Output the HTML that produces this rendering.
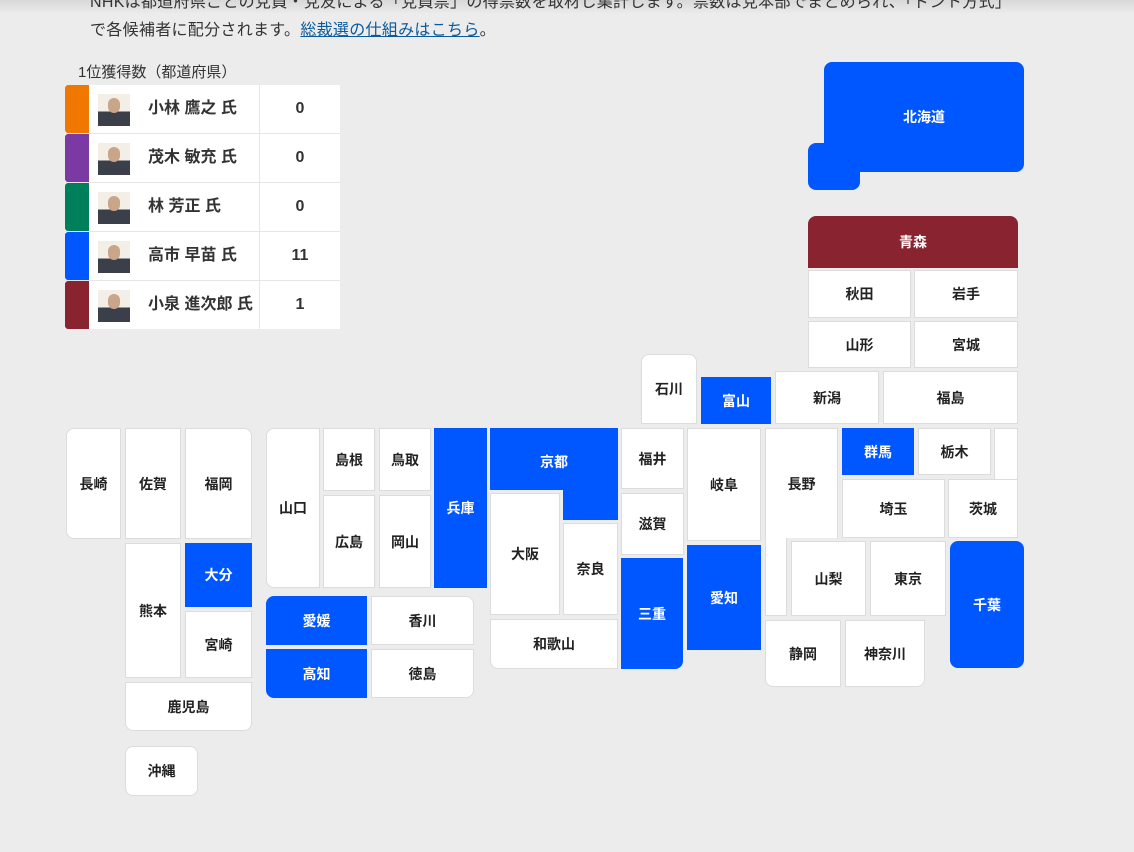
<!DOCTYPE html>
<html><head><meta charset="utf-8"><style>
body{margin:0;width:1134px;height:852px;background:#ececec;position:relative;overflow:hidden;font-family:"Liberation Sans","Noto Sans CJK JP",sans-serif;}
.t{position:absolute;left:90px;font-size:16px;letter-spacing:0.3px;color:#333;white-space:nowrap;}
.t a{color:#0a5a9c;text-decoration:underline;}
.c{position:absolute;background:#fff;border:1px solid #dcdcdc;box-sizing:border-box;display:flex;align-items:center;justify-content:center;font-size:14px;font-weight:bold;color:#222;}
.b{background:#0057ff;border-color:#0057ff;color:#fff;}
.r{background:#8a2330;border-color:#8a2330;color:#fff;}
.p{position:absolute;box-sizing:border-box;}
.row{position:absolute;left:65px;width:275px;height:48px;background:#fff;}
.row .bar{position:absolute;left:0;top:0;width:24px;height:48px;border-radius:3px 0 0 3px;}
.row .ph{position:absolute;left:33px;top:9px;width:32px;height:32px;background:linear-gradient(#f3efe6 55%,#3a3f4a 55%);}
.row .ph::after{content:"";position:absolute;left:10px;top:4px;width:12px;height:15px;border-radius:6px;background:#c9a58a;}
.row .nm{position:absolute;left:83px;top:0;height:48px;line-height:48px;font-size:16px;font-weight:bold;color:#333;white-space:nowrap;}
.row .dv{position:absolute;left:194px;top:0;width:1px;height:48px;background:#e6e6e6;}
.row .n{position:absolute;left:195px;width:80px;top:0;height:48px;line-height:48px;text-align:center;font-size:16px;font-weight:bold;color:#333;}
</style></head><body>
<div style="position:absolute;left:0;top:0;width:1134px;height:14px;background:linear-gradient(#d8d8d8,#ececec)"></div>
<div class="t" style="top:-12px">NHKは都道府県ごとの党員・党友による「党員票」の得票数を取材し集計します。票数は党本部でまとめられ、「ドント方式」</div>
<div class="t" style="top:16px">で各候補者に配分されます。<a>総裁選の仕組みはこちら</a>。</div>
<div style="position:absolute;left:78px;top:61px;font-size:15px;color:#333">1位獲得数（都道府県）</div>

<div class="row" style="top:85px"><div class="bar" style="background:#f07800"></div><div class="ph"></div><div class="nm">小林 鷹之 氏</div><div class="dv"></div><div class="n">0</div></div>
<div class="row" style="top:134px"><div class="bar" style="background:#7b3aa3"></div><div class="ph"></div><div class="nm">茂木 敏充 氏</div><div class="dv"></div><div class="n">0</div></div>
<div class="row" style="top:183px"><div class="bar" style="background:#00805a"></div><div class="ph"></div><div class="nm">林 芳正 氏</div><div class="dv"></div><div class="n">0</div></div>
<div class="row" style="top:232px"><div class="bar" style="background:#0057ff"></div><div class="ph"></div><div class="nm">高市 早苗 氏</div><div class="dv"></div><div class="n">11</div></div>
<div class="row" style="top:281px"><div class="bar" style="background:#8a2330"></div><div class="ph"></div><div class="nm">小泉 進次郎 氏</div><div class="dv"></div><div class="n">1</div></div>
<div style="position:absolute;left:65px;top:133px;width:275px;height:1px;background:#e6e6e6"></div>
<div style="position:absolute;left:65px;top:182px;width:275px;height:1px;background:#e6e6e6"></div>
<div style="position:absolute;left:65px;top:231px;width:275px;height:1px;background:#e6e6e6"></div>
<div style="position:absolute;left:65px;top:280px;width:275px;height:1px;background:#e6e6e6"></div>

<!-- Hokkaido -->
<div class="p" style="left:808px;top:143px;width:52px;height:47px;background:#0057ff;border-radius:8px"></div>
<div class="c b" style="left:824px;top:62px;width:200px;height:110px;border-radius:8px">北海道</div>
<div class="c r" style="left:808px;top:216px;width:210px;height:52px;border-radius:8px 8px 0 0">青森</div>
<div class="c" style="left:808px;top:270px;width:103px;height:48px">秋田</div>
<div class="c" style="left:914px;top:270px;width:104px;height:48px">岩手</div>
<div class="c" style="left:808px;top:321px;width:103px;height:47px">山形</div>
<div class="c" style="left:914px;top:321px;width:104px;height:47px">宮城</div>
<div class="c" style="left:641px;top:354px;width:56px;height:70px;border-radius:8px 8px 0 0">石川</div>
<div class="c b" style="left:701px;top:377px;width:70px;height:47px">富山</div>
<div class="c" style="left:775px;top:371px;width:104px;height:53px">新潟</div>
<div class="c" style="left:883px;top:371px;width:135px;height:53px">福島</div>
<div class="c" style="left:621px;top:428px;width:63px;height:61px">福井</div>
<div class="c" style="left:621px;top:493px;width:63px;height:62px">滋賀</div>
<div class="c b" style="left:621px;top:558px;width:62px;height:111px;border-radius:0 0 8px 0">三重</div>
<div class="c" style="left:687px;top:428px;width:74px;height:113px">岐阜</div>
<div class="c b" style="left:687px;top:545px;width:74px;height:105px">愛知</div>
<div class="p" style="left:765px;top:530px;width:22px;height:86px;background:#fff;border:1px solid #dcdcdc;border-top:none"></div>
<div class="c" style="left:765px;top:428px;width:73px;height:110px;border-bottom:none">長野</div>
<div class="c b" style="left:842px;top:428px;width:72px;height:47px">群馬</div>
<div class="c" style="left:918px;top:428px;width:73px;height:47px">栃木</div>
<div class="p" style="left:994px;top:428px;width:24px;height:60px;background:#fff;border:1px solid #dcdcdc;border-bottom:none"></div>
<div class="c" style="left:948px;top:479px;width:70px;height:59px">茨城</div>
<div class="c" style="left:842px;top:479px;width:103px;height:59px">埼玉</div>
<div class="c" style="left:791px;top:541px;width:75px;height:75px">山梨</div>
<div class="c" style="left:870px;top:541px;width:76px;height:75px">東京</div>
<div class="c b" style="left:950px;top:541px;width:74px;height:127px;border-radius:8px">千葉</div>
<div class="c" style="left:765px;top:620px;width:76px;height:67px;border-radius:0 0 0 8px">静岡</div>
<div class="c" style="left:845px;top:620px;width:80px;height:67px;border-radius:0 0 8px 0">神奈川</div>

<!-- Kinki -->
<div class="p" style="left:563px;top:485px;width:55px;height:35px;background:#0057ff"></div>
<div class="c b" style="left:490px;top:428px;width:128px;height:62px;align-items:flex-start;padding-top:23px">京都</div>
<div class="c b" style="left:434px;top:428px;width:53px;height:160px">兵庫</div>
<div class="c" style="left:490px;top:493px;width:70px;height:122px">大阪</div>
<div class="c" style="left:563px;top:523px;width:55px;height:92px">奈良</div>
<div class="c" style="left:490px;top:619px;width:128px;height:50px;border-radius:0 0 0 8px">和歌山</div>

<!-- Chugoku -->
<div class="c" style="left:266px;top:428px;width:54px;height:160px;border-radius:8px 0 0 8px">山口</div>
<div class="c" style="left:323px;top:428px;width:52px;height:63px">島根</div>
<div class="c" style="left:379px;top:428px;width:52px;height:63px">鳥取</div>
<div class="c" style="left:323px;top:495px;width:52px;height:93px">広島</div>
<div class="c" style="left:379px;top:495px;width:52px;height:93px">岡山</div>

<!-- Shikoku -->
<div class="c b" style="left:266px;top:596px;width:101px;height:49px;border-radius:8px 0 0 0">愛媛</div>
<div class="c" style="left:371px;top:596px;width:103px;height:49px;border-radius:0 8px 0 0">香川</div>
<div class="c b" style="left:266px;top:649px;width:101px;height:49px;border-radius:0 0 0 8px">高知</div>
<div class="c" style="left:371px;top:649px;width:103px;height:49px;border-radius:0 0 8px 0">徳島</div>

<!-- Kyushu -->
<div class="c" style="left:66px;top:428px;width:55px;height:111px;border-radius:8px 0 0 8px">長崎</div>
<div class="c" style="left:125px;top:428px;width:56px;height:111px">佐賀</div>
<div class="c" style="left:185px;top:428px;width:67px;height:111px;border-radius:0 8px 0 0">福岡</div>
<div class="c" style="left:125px;top:543px;width:56px;height:135px">熊本</div>
<div class="c b" style="left:185px;top:543px;width:67px;height:64px">大分</div>
<div class="c" style="left:185px;top:611px;width:67px;height:67px">宮崎</div>
<div class="c" style="left:125px;top:682px;width:127px;height:49px;border-radius:0 0 8px 8px">鹿児島</div>
<div class="c" style="left:125px;top:746px;width:73px;height:50px;border-radius:8px">沖縄</div>
</body></html>
